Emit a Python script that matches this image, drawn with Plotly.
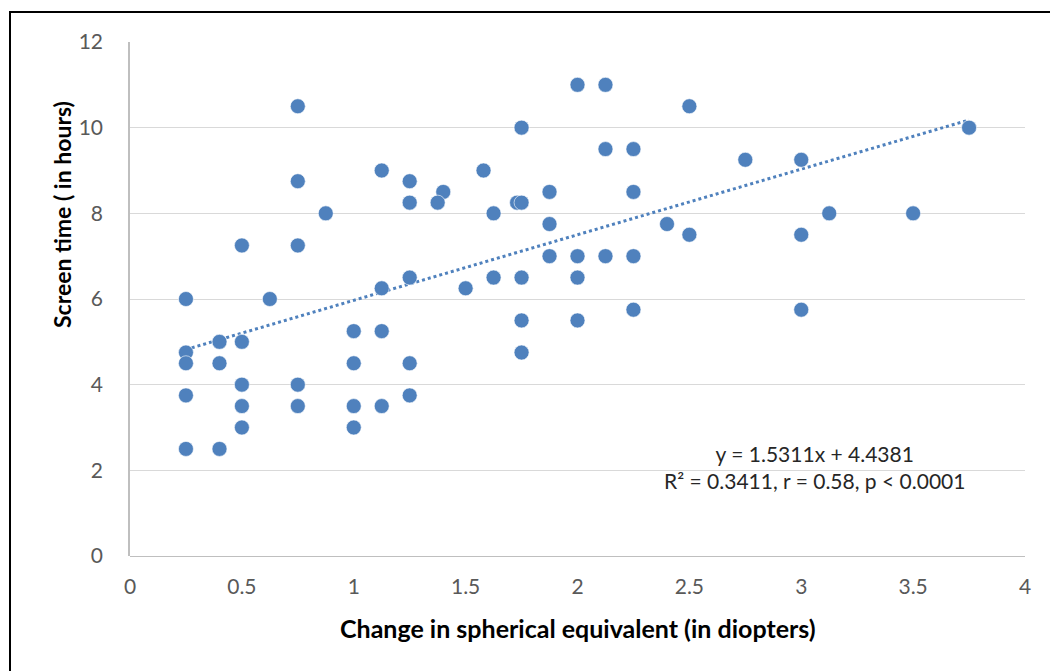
import plotly.graph_objects as go

# Change in spherical equivalent (diopters)
change_se = [
    0.25, 0.25, 0.25, 0.25, 0.25,
    0.4, 0.4, 0.4,
    0.5, 0.5, 0.5, 0.5, 0.5,
    0.625,
    0.75, 0.75, 0.75, 0.75, 0.75,
    0.875,
    1.0, 1.0, 1.0, 1.0,
    1.125, 1.125, 1.125, 1.125,
    1.25, 1.25, 1.25, 1.25, 1.25,
    1.4, 1.375, 1.5, 1.58, 1.625, 1.625,
    1.73, 1.75, 1.75, 1.75, 1.75, 1.75,
    1.875, 1.875, 1.875,
    2.0, 2.0, 2.0, 2.0,
    2.125, 2.125, 2.125,
    2.25, 2.25, 2.25, 2.25,
    2.4, 2.5, 2.5, 2.75,
    3.0, 3.0, 3.0, 3.125, 3.5, 3.75,
]
# Screen time (hours)
screen_time = [
    6.0, 4.75, 4.5, 3.75, 2.5,
    5.0, 4.5, 2.5,
    7.25, 5.0, 4.0, 3.5, 3.0,
    6.0,
    10.5, 8.75, 7.25, 4.0, 3.5,
    8.0,
    5.25, 4.5, 3.5, 3.0,
    9.0, 6.25, 5.25, 3.5,
    8.75, 8.25, 6.5, 4.5, 3.75,
    8.5, 8.25, 6.25, 9.0, 8.0, 6.5,
    8.25, 8.25, 10.0, 6.5, 5.5, 4.75,
    8.5, 7.75, 7.0,
    11.0, 7.0, 6.5, 5.5,
    11.0, 9.5, 7.0,
    9.5, 8.5, 7.0, 5.75,
    7.75, 10.5, 7.5, 9.25,
    9.25, 7.5, 5.75, 8.0, 8.0, 10.0,
]

# Linear trendline (as reported on the chart)
slope = 1.5311
intercept = 4.4381
trend_x = [min(change_se), max(change_se)]
trend_y = [slope * v + intercept for v in trend_x]

x_ticks = [0, 0.5, 1, 1.5, 2, 2.5, 3, 3.5, 4]
y_ticks = [0, 2, 4, 6, 8, 10, 12]

BLUE = "#4F81BD"
FONT = "Lato"

fig = go.Figure()
fig.add_trace(go.Scatter(
    x=trend_x, y=trend_y, mode="lines",
    line=dict(color=BLUE, width=3, dash="dot"),
    hoverinfo="skip", showlegend=False,
))
fig.add_trace(go.Scatter(
    x=change_se, y=screen_time, mode="markers",
    marker=dict(color=BLUE, size=15, line=dict(color="white", width=0.6)),
    showlegend=False,
))

fig.update_layout(
    width=1050, height=671,
    margin=dict(l=130, r=25, t=42, b=115),
    paper_bgcolor="white", plot_bgcolor="white",
    font=dict(family=FONT, color="#595959", size=21),
    xaxis=dict(
        range=[0, 4], tickvals=x_ticks, ticktext=[f"{v:g}" for v in x_ticks],
        showgrid=False, zeroline=False, showline=False,
        ticks="", ticklabelstandoff=16,
        tickfont=dict(family=FONT, size=21, color="#595959"),
    ),
    yaxis=dict(
        range=[0, 12], tickvals=y_ticks, ticktext=[str(v) for v in y_ticks],
        showgrid=True, gridcolor="#D9D9D9", gridwidth=1.3,
        zeroline=True, zerolinecolor="#BFBFBF", zerolinewidth=1.3,
        showline=True, linecolor="#BFBFBF", linewidth=1.5,
        ticks="", ticklabelstandoff=21,
        tickfont=dict(family=FONT, size=21, color="#595959"),
    ),
    shapes=[dict(
        type="rect", xref="paper", yref="paper",
        x0=(10 - 130) / 895, x1=(1100 - 130) / 895,
        y0=(556 - 720) / 514, y1=(556 - 12) / 514,
        line=dict(color="black", width=2), fillcolor="rgba(0,0,0,0)",
        layer="below",
    )],
    annotations=[
        dict(text="<b>Screen time ( in hours)</b>", xref="paper", yref="paper",
             x=(62 - 130) / 895, y=(556 - 215) / 514, textangle=-90,
             showarrow=False, xanchor="center", yanchor="middle",
             font=dict(family=FONT, size=23, color="black")),
        dict(text="<b>Change in spherical equivalent (in diopters)</b>",
             xref="paper", yref="paper",
             x=(578 - 130) / 895, y=(556 - 628) / 514,
             showarrow=False, xanchor="center", yanchor="middle",
             font=dict(family=FONT, size=25, color="black")),
        dict(text="y = 1.5311x + 4.4381<br>R² = 0.3411, r = 0.58, p < 0.0001",
             xref="paper", yref="paper",
             x=(814 - 130) / 895, y=(556 - 467) / 514,
             showarrow=False, xanchor="center", yanchor="middle", align="center",
             font=dict(family=FONT, size=21, color="#262626")),
    ],
)

fig.write_html("out.html")
